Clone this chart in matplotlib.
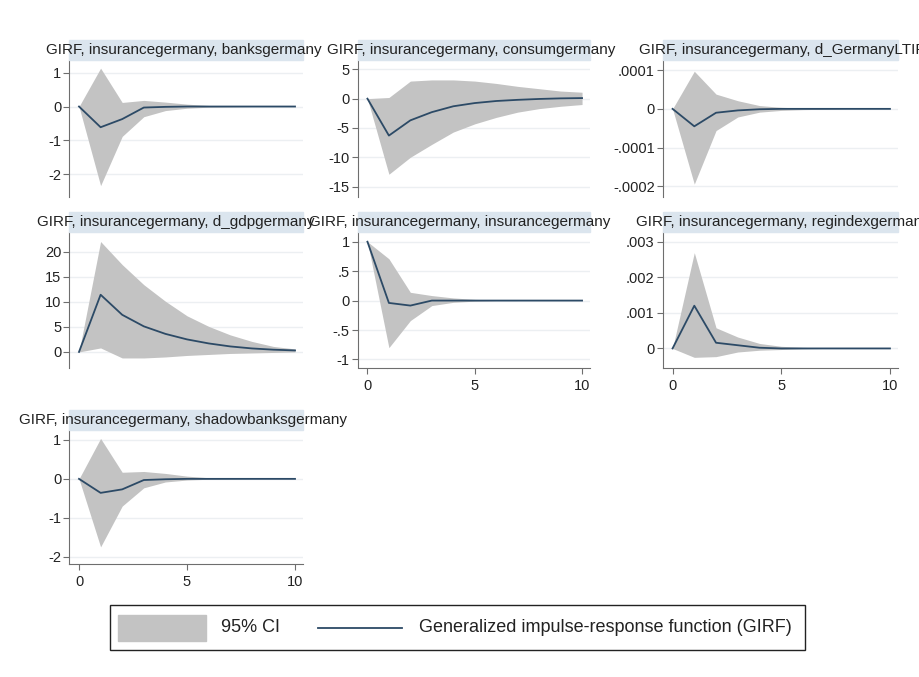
import numpy as np
import matplotlib
matplotlib.use("Agg")
import matplotlib.pyplot as plt
from matplotlib.patches import Rectangle
from matplotlib.lines import Line2D

plt.rcParams['font.family'] = ['Liberation Sans', 'DejaVu Sans']

# horizon
steps = list(range(11))

# GIRF values and 95% CI, one set per response variable
banks_girf = [0, -0.61, -0.37, -0.03, -0.01, 0, 0, 0, 0, 0, 0]
banks_up = [0, 1.13, 0.12, 0.18, 0.13, 0.07, 0.03, 0.01, 0, 0, 0]
banks_lo = [0, -2.33, -0.88, -0.30, -0.12, -0.05, -0.02, -0.01, 0, 0, 0]

consum_girf = [0, -6.3, -3.7, -2.3, -1.3, -0.75, -0.4, -0.2, -0.05, 0.05, 0.1]
consum_up = [0, 0.2, 3.0, 3.2, 3.2, 3.0, 2.6, 2.1, 1.7, 1.3, 1.1]
consum_lo = [0, -12.9, -10.0, -7.8, -5.7, -4.3, -3.2, -2.3, -1.7, -1.3, -1.0]

ltir_girf = [0, -0.000045, -0.00001, -0.000004, -0.000001, 0, 0, 0, 0, 0, 0]
ltir_up = [0, 0.000097, 0.000038, 0.000021, 0.0000085, 0.000004, 0.000002, 0.000001, 0, 0, 0]
ltir_lo = [0, -0.000194, -0.000056, -0.000021, -0.0000085, -0.000004, -0.000002, -0.000001, 0, 0, 0]

gdp_girf = [0, 11.4, 7.4, 5.1, 3.6, 2.5, 1.7, 1.1, 0.7, 0.45, 0.3]
gdp_up = [0, 22.0, 17.4, 13.4, 10.1, 7.2, 5.1, 3.4, 2.1, 1.1, 0.6]
gdp_lo = [0, 0.8, -1.2, -1.2, -1.0, -0.7, -0.5, -0.3, -0.2, -0.1, 0.0]

ins_girf = [1, -0.04, -0.085, 0, 0, 0, 0, 0, 0, 0, 0]
ins_up = [1, 0.71, 0.14, 0.085, 0.045, 0.02, 0.01, 0, 0, 0, 0]
ins_lo = [1, -0.80, -0.34, -0.085, -0.03, -0.01, 0, 0, 0, 0, 0]

reg_girf = [0, 0.0012, 0.00016, 0.00009, 0.00002, 0, 0, 0, 0, 0, 0]
reg_up = [0, 0.00269, 0.00058, 0.00032, 0.00014, 0.00006, 0.00003, 0.00001, 0, 0, 0]
reg_lo = [0, -0.00025, -0.00023, -0.00010, -0.00005, -0.00003, -0.00001, 0, 0, 0, 0]

shadow_girf = [0, -0.36, -0.27, -0.03, -0.01, 0, 0, 0, 0, 0, 0]
shadow_up = [0, 1.04, 0.17, 0.19, 0.14, 0.07, 0.03, 0.01, 0, 0, 0]
shadow_lo = [0, -1.75, -0.70, -0.23, -0.08, -0.03, -0.01, 0, 0, 0, 0]

titles = ["GIRF, insurancegermany, banksgermany",
          "GIRF, insurancegermany, consumgermany",
          "GIRF, insurancegermany, d_GermanyLTIR",
          "GIRF, insurancegermany, d_gdpgermany",
          "GIRF, insurancegermany, insurancegermany",
          "GIRF, insurancegermany, regindexgermany",
          "GIRF, insurancegermany, shadowbanksgermany"]

yticks = [[1, 0, -1, -2], [5, 0, -5, -10, -15], [0.0001, 0, -0.0001, -0.0002],
          [20, 15, 10, 5, 0], [1, 0.5, 0, -0.5, -1], [0.003, 0.002, 0.001, 0],
          [1, 0, -1, -2]]
ytick_labels = [["1", "0", "-1", "-2"], ["5", "0", "-5", "-10", "-15"],
                [".0001", "0", "-.0001", "-.0002"], ["20", "15", "10", "5", "0"],
                ["1", ".5", "0", "-.5", "-1"], [".003", ".002", ".001", "0"],
                ["1", "0", "-1", "-2"]]
xticks = [0, 5, 10]

girfs = [banks_girf, consum_girf, ltir_girf, gdp_girf, ins_girf, reg_girf, shadow_girf]
ups = [banks_up, consum_up, ltir_up, gdp_up, ins_up, reg_up, shadow_up]
los = [banks_lo, consum_lo, ltir_lo, gdp_lo, ins_lo, reg_lo, shadow_lo]

W, H = 920, 677
fig = plt.figure(figsize=(W / 100, H / 100), dpi=100)
fig.patch.set_facecolor('white')

# panel boxes in pixels
cols = [(69.5, 303), (358, 590), (663, 898)]
rows = [(60, 196.5), (232, 367.5), (430, 564)]
title_x = [184, 471, 783, 176, 460, 783, 183]
ylims = [(-2.65, 1.37), (-16.7, 6.6), (-0.000226, 0.000126), (-3.1, 23.9),
         (-1.137, 1.165), (-0.000535, 0.00327), (-2.19, 1.257)]
show_x = [False, False, False, False, True, True, True]

fill_c = '#c3c3c3'
line_c = '#2c4a66'
band_c = '#dbe5ee'
axis_c = '#6e6e6e'

for i in range(7):
    r, c = divmod(i, 3)
    x0, x1 = cols[c]
    top, bot = rows[r]
    ax = fig.add_axes([x0 / W, 1 - bot / H, (x1 - x0) / W, (bot - top) / H])
    ax.fill_between(steps, los[i], ups[i], color=fill_c, lw=0, zorder=2)
    ax.plot(steps, girfs[i], color=line_c, lw=1.3, zorder=3)
    ax.set_xlim(-0.44, 10.37)
    ax.set_ylim(*ylims[i])
    ax.set_yticks(yticks[i])
    ax.set_yticklabels(ytick_labels[i])
    ax.grid(axis='y', color='#eceff2', lw=1, zorder=0)
    for s in ['top', 'right']:
        ax.spines[s].set_visible(False)
    ax.spines['left'].set_color(axis_c)
    ax.tick_params(axis='y', colors=axis_c, labelcolor='#222222', labelsize=10.5,
                   length=4, width=0.8, pad=2)
    if show_x[i]:
        ax.set_xticks(xticks)
        ax.spines['bottom'].set_color(axis_c)
        ax.tick_params(axis='x', colors=axis_c, labelcolor='#222222', labelsize=10.5,
                       length=4, width=0.8, pad=4)
    else:
        ax.spines['bottom'].set_visible(False)
        ax.set_xticks([])
    # title band
    fig.patches.append(Rectangle((x0 / W, 1 - top / H), (x1 - x0) / W, 20 / H,
                                 transform=fig.transFigure, color=band_c, zorder=0))
    fig.text(title_x[i] / W, 1 - (top - 10) / H, titles[i],
             ha='center', va='center', fontsize=11, color='#222222')

# legend box
fig.patches.append(Rectangle((110 / W, 1 - 650 / H), 695 / W, 45 / H,
                             transform=fig.transFigure, fill=False,
                             edgecolor='#222222', lw=1))
fig.patches.append(Rectangle((118 / W, 1 - 641 / H), 88 / W, 26 / H,
                             transform=fig.transFigure, color=fill_c))
fig.text(221 / W, 1 - 628 / H, "95% CI", ha='left', va='center', fontsize=13,
         color='#222222')
fig.lines.append(Line2D([318 / W, 402 / W], [1 - 628 / H, 1 - 628 / H],
                        transform=fig.transFigure, color=line_c, lw=1.3))
fig.text(419 / W, 1 - 628 / H, "Generalized impulse-response function (GIRF)",
         ha='left', va='center', fontsize=13, color='#222222')

fig.savefig('out.png', dpi=100, facecolor='white')
